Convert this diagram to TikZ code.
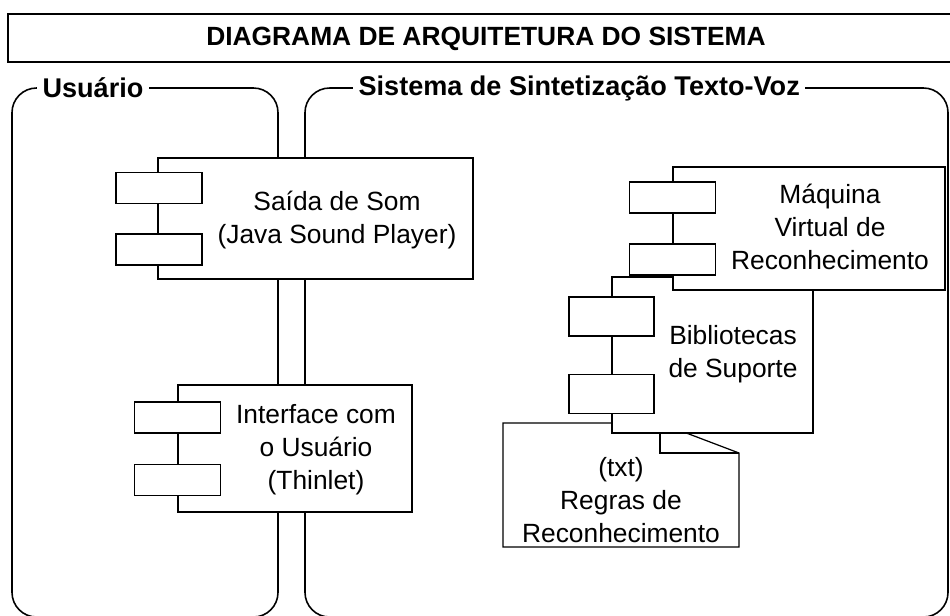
\documentclass[tikz,border=0pt]{standalone}
\usepackage{fontspec}
\setmainfont{Liberation Sans}
\usetikzlibrary{positioning}

\begin{document}
\begin{tikzpicture}[x=0.2mm, y=-0.2mm,
    comp/.style={draw, fill=white, line width=0.7pt, inner sep=0pt},
    port/.style={draw, fill=white, line width=0.7pt, inner sep=0pt,
      minimum width=17.2mm, minimum height=6.2mm},
    lane/.style={draw, line width=0.9pt, rounded corners=14pt},
    lanelbl/.style={fill=white, inner xsep=3pt, inner ysep=1pt,
      font=\bfseries\fontsize{15.4}{18}\selectfont},
    txt/.style={align=center, inner sep=0pt,
      font=\fontsize{15}{18.8}\selectfont}]
    \useasboundingbox (0,0) rectangle (950,615);
    \clip (0,0) rectangle (950,615);

    % titulo
    \draw[line width=1.1pt] (8,14) rectangle (965,62);
    \node[font=\bfseries\fontsize{15}{18}\selectfont] (titulo) at (486,39)
      {DIAGRAMA DE ARQUITETURA DO SISTEMA};

    % raias
    \draw[lane] (12,88) rectangle (278,617);
    \draw[lane] (305,88) rectangle (948,617);
    \node[lanelbl, anchor=west] (usuario) at (37,88) {Usuário};
    \node[lanelbl, anchor=west] (sistema) at (353,88)
      {Sistema de Sintetização Texto-Voz};

    % Saida de Som
    \node[comp, minimum width=63mm, minimum height=24.2mm] (som) at (315.5,218.5) {};
    \foreach \y/\n in {188/a,249.5/b}{%
      \node[port] (som-\n) at (159,\y) {};
    }
    \node[txt] (som-txt) at (337,220) {Saída de Som\\(Java Sound Player)};

    % Interface com o Usuario
    \node[comp, minimum width=46.8mm, minimum height=25.4mm] (gui) at (295,448.5) {};
    \foreach \y/\n in {417.5/a,480/b}{%
      \node[port] (gui-\n) at (177.5,\y) {};
    }
    \node[txt] (gui-txt) at (316,450) {Interface com\\o Usuário\\(Thinlet)};

    % Regras (nota)
    \draw[comp] (503,423) -- (660,423) -- (739,453) -- (739,547) -- (503,547) -- cycle;
    \draw[line width=0.7pt] (660,423) -- (660,453) -- (739,453);
    \node[txt] (regras) at (621,500) {(txt)\\Regras de\\Reconhecimento};

    % Bibliotecas de Suporte
    \node[comp, minimum width=40.2mm, minimum height=31.2mm] (bib) at (712.5,355) {};
    \foreach \y/\n in {316.5/a,394/b}{%
      \node[port, minimum width=17mm, minimum height=7.8mm] (bib-\n) at (611.5,\y) {};
    }
    \node[txt] (bib-txt) at (733,354) {Bibliotecas\\de Suporte};

    % Maquina Virtual
    \node[comp, minimum width=54.4mm, minimum height=24.6mm] (mv) at (809,228.5) {};
    \foreach \y/\n in {197.5/a,259.5/b}{%
      \node[port] (mv-\n) at (672.5,\y) {};
    }
    \node[txt] (mv-txt) at (830,227) {Máquina\\Virtual de\\Reconhecimento};

\end{tikzpicture}
\end{document}
